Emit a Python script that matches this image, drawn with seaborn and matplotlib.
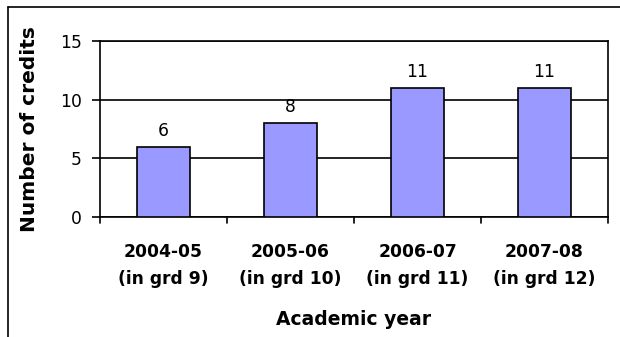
import matplotlib
matplotlib.use("Agg")
import matplotlib.pyplot as plt
import seaborn as sns
import pandas as pd
from matplotlib.lines import Line2D

years = ["2004-05\n(in grd 9)", "2005-06\n(in grd 10)", "2006-07\n(in grd 11)", "2007-08\n(in grd 12)"]
credits = [6, 8, 11, 11]
y_ticks = [0, 5, 10, 15]

df = pd.DataFrame({"year": years, "credits": credits})

sns.set_theme(style="white", rc={"text.color": "black", "axes.labelcolor": "black",
                                 "xtick.color": "black", "ytick.color": "black"})
plt.rcParams["font.family"] = ["DejaVu Sans"]

fig = plt.figure(figsize=(6.2, 3.37), dpi=100)
ax = fig.add_axes([100 / 620, 1 - 217 / 337, 508 / 620, 176 / 337])

sns.barplot(data=df, x="year", y="credits", color="#9999FF", edgecolor="black",
            linewidth=1.2, width=0.41, saturation=1, ax=ax, zorder=3)

ax.set_ylim(0, 15)
ax.set_xlim(-0.5, 3.5)
ax.set_yticks(y_ticks)
ax.set_yticklabels([str(t) for t in y_ticks], fontsize=12.3)
ax.yaxis.grid(True, color="black", linewidth=1.2, zorder=0)
ax.set_axisbelow(True)

ax.set_xticks([0, 1, 2, 3])
ax.set_xticklabels(years, fontsize=12.3, fontweight="bold", linespacing=1.6)
ax.tick_params(axis="x", length=0, pad=19)
ax.tick_params(axis="y", length=6, width=1.2, color="black", left=True, pad=7)
# category boundary ticks
for b in [-0.5, 0.5, 1.5, 2.5, 3.5]:
    ax.plot([b, b], [0, -0.5], color="black", linewidth=1.2, clip_on=False, zorder=5)

for s in ax.spines.values():
    s.set_color("black")
    s.set_linewidth(1.2)

ax.bar_label(ax.containers[0], labels=[str(v) for v in credits], padding=5, fontsize=12.3)

ax.set_xlabel("Academic year", fontsize=13.5, fontweight="bold", labelpad=16)
ax.set_ylabel("Number of credits", fontsize=14.5, fontweight="bold", labelpad=15)

# outer chart frame (only top and left edges fall inside the image)
fig.lines.append(Line2D([8 / 620, 1.0], [1 - 7 / 337, 1 - 7 / 337], transform=fig.transFigure,
                        color="black", linewidth=1.2))
fig.lines.append(Line2D([8 / 620, 8 / 620], [0, 1 - 7 / 337], transform=fig.transFigure,
                        color="black", linewidth=1.2))

fig.savefig("out.png", dpi=100)
